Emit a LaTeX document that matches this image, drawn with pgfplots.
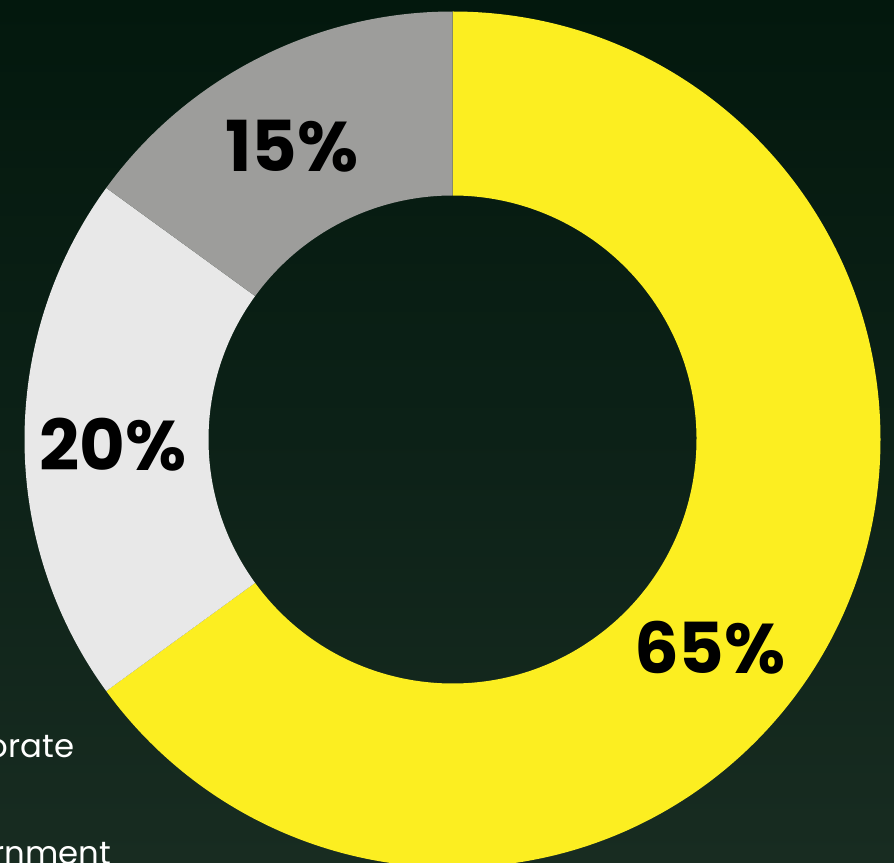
\documentclass[border=0pt]{standalone}
\usepackage{pgfplots}
\pgfplotsset{compat=1.18}
\usepackage{fontspec}
\setmainfont{Poppins}
\definecolor{cyellow}{HTML}{FCEE21}
\definecolor{clight}{HTML}{E8E8E8}
\definecolor{cgray}{HTML}{9D9D9B}
\definecolor{bgtop}{HTML}{03180D}
\definecolor{bgbot}{HTML}{182C21}
\definecolor{bgmid}{HTML}{0C2117}
\def\Ro{4.28}
\def\Ri{2.44}
% #1 cumulative start (percent), #2 value (percent), #3 colour
\newcommand{\slice}[3]{%
  \pgfmathsetmacro\aA{90-3.6*#1}%
  \pgfmathsetmacro\aB{90-3.6*(#1+#2)}%
  \edef\temp{\noexpand\fill[#3] (axis cs:{\Ro*cos(\aA)},{\Ro*sin(\aA)}) arc[start angle=\aA, end angle=\aB, radius=\Ro cm] -- (axis cs:{\Ri*cos(\aB)},{\Ri*sin(\aB)}) arc[start angle=\aB, end angle=\aA, radius=\Ri cm] -- cycle;}%
  \temp}
\begin{document}
\begin{tikzpicture}
\begin{axis}[
  x=1cm, y=1cm,
  xmin=-4.525, xmax=4.415,
  ymin=-4.225, ymax=4.395,
  hide axis, clip=true,
]
\addplot[draw=none] coordinates {(0,0)};
\shade[top color=bgtop, bottom color=bgbot, middle color=bgmid] (axis cs:-4.525,-4.225) rectangle (axis cs:4.415,4.395);
% slices: Corporate 65, Government 20, Other 15
\slice{0}{65}{cyellow}
\slice{65}{20}{clight}
\slice{85}{15}{cgray}
\node[font=\bfseries\fontsize{20}{20}\selectfont, text=black] at (axis cs:2.575,-2.085) {65\%};
\node[font=\bfseries\fontsize{20}{20}\selectfont, text=black] at (axis cs:-3.395,-0.055) {20\%};
\node[font=\bfseries\fontsize{20}{20}\selectfont, text=black] at (axis cs:-1.605,2.935) {15\%};
\node[font=\fontsize{9.2}{9.2}\selectfont, text=white, anchor=base east, inner sep=0pt] at (axis cs:-3.775,-3.175) {Corporate};
\node[font=\fontsize{9.2}{9.2}\selectfont, text=white, anchor=base east, inner sep=0pt] at (axis cs:-3.405,-4.245) {Government};
\end{axis}
\pgfresetboundingbox
\useasboundingbox (current axis.south west) rectangle (current axis.north east);
\end{tikzpicture}
\end{document}
